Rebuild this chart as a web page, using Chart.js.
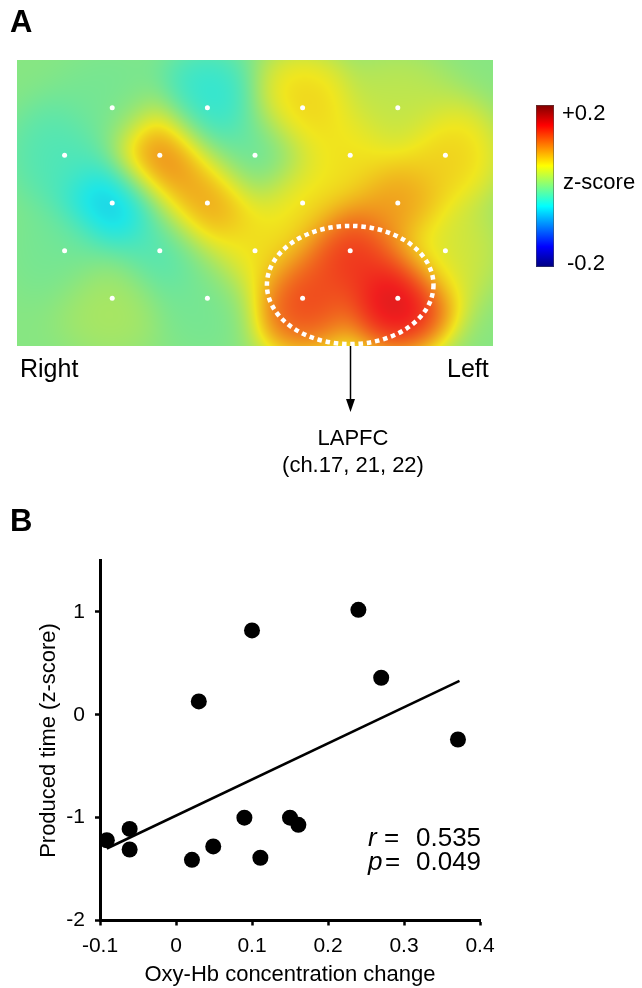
<!DOCTYPE html>
<html>
<head>
<meta charset="utf-8">
<title>LAPFC oxy-Hb and produced time</title>
<script src="https://cdn.jsdelivr.net/npm/chart.js@4.4.1/dist/chart.umd.min.js"></script>
<style>
  html, body { margin: 0; padding: 0; background: #fff; }
  body { position: relative; width: 642px; height: 988px; overflow: hidden;
         font-family: "Liberation Sans", Arial, sans-serif; color: #000; }
  canvas { position: absolute; left: 0; }
  #map { top: 0; }
  #scatter { top: 490px; }
  .t { position: absolute; white-space: nowrap; line-height: 1; }
  .panel { font-weight: bold; font-size: 31px; left: 10px; }
  .side { font-size: 25px; top: 356px; }
  .roi { font-size: 22px; left: 353px; transform: translateX(-50%); }
  .cb { font-size: 22px; }
  .stat { font-size: 26px; }
</style>
</head>
<body>
<canvas id="map" width="642" height="490"></canvas>
<canvas id="scatter" width="642" height="498"></canvas>

<div class="t panel" style="top:6px">A</div>
<div class="t side" style="left:20px">Right</div>
<div class="t side" style="left:447px">Left</div>
<div class="t roi" style="top:427px">LAPFC</div>
<div class="t roi" style="top:454px">(ch.17, 21, 22)</div>
<div class="t cb" style="left:562px;top:102px">+0.2</div>
<div class="t cb" style="left:563px;top:171px">z-score</div>
<div class="t cb" style="left:567px;top:252px">-0.2</div>

<div class="t panel" style="top:505px">B</div>
<div class="t stat" style="left:368px;top:824px"><i>r</i></div>
<div class="t stat" style="left:384px;top:824px">=</div>
<div class="t stat" style="left:416px;top:824px">0.535</div>
<div class="t stat" style="left:368px;top:848px"><i>p</i></div>
<div class="t stat" style="left:385px;top:848px">=</div>
<div class="t stat" style="left:416px;top:848px">0.049</div>

<script>
// ---- panel A: 22 channels, column/row on the probe grid, z-score of each
const chCol = [2, 4, 6, 8, 1, 3, 5, 7, 9, 2, 4, 6, 8, 1, 3, 5, 7, 9, 2, 4, 6, 8];
const chRow = [1, 1, 1, 1, 2, 2, 2, 2, 2, 3, 3, 3, 3, 4, 4, 4, 4, 4, 5, 5, 5, 5];
const chZ = [-0.01, -0.05, 0.07, 0.03,
             -0.03, 0.12, -0.02, 0.06, 0.07,
             -0.08, 0.10, 0.06, 0.10,
             -0.01, -0.03, 0.06, 0.16, 0.04,
             0.02, -0.01, 0.15, 0.19];
const zRange = [-0.2, 0.2];
const roi = { x: 7.0, y: 4.72, rx: 1.75, ry: 1.24 };   // LAPFC (ch.17, 21, 22)

// ---- panel B
const oxyHb = [-0.091, -0.061, -0.061, 0.021, 0.049, 0.090, 0.111, 0.150, 0.161,
               0.030, 0.100, 0.240, 0.270, 0.371];
const producedTime = [-1.22, -1.11, -1.31, -1.41, -1.28, -1.00, -1.39, -1.00, -1.07,
                      0.13, 0.82, 1.02, 0.36, -0.24];
const fitX = [-0.091, 0.373];
const fitY = [-1.30, 0.33];
const xTicks = [-0.1, 0, 0.1, 0.2, 0.3, 0.4];
const yTicks = [-2, -1, 0, 1];

Chart.defaults.font.family = '"Liberation Sans", Arial, sans-serif';
Chart.defaults.color = '#000';

function jet(t) {
    const c = v => Math.max(0, Math.min(1, v));
    return [c(1.5 - Math.abs(4 * t - 3)), c(1.5 - Math.abs(4 * t - 2)), c(1.5 - Math.abs(4 * t - 1))];
}

// smooth surface between channels (gaussian weights, relaxes to 0 away from the probe)
function fieldAt(gx, gy) {
    const s2 = 2 * 0.58 * 0.58;
    let num = 0, den = 0.2;
    for (let i = 0; i < chZ.length; i++) {
        const dx = gx - chCol[i], dy = gy - chRow[i];
        const w = Math.exp(-(dx * dx + dy * dy) / s2);
        num += w * chZ[i];
        den += w;
    }
    return num / den;
}

const topoPlugin = {
    id: 'topo',
    beforeDatasetsDraw(chart) {
        const { ctx, chartArea: a, scales: { x, y } } = chart;
        const w = Math.round(a.right - a.left), h = Math.round(a.bottom - a.top);
        const img = ctx.createImageData(w, h);
        for (let j = 0; j < h; j++) {
            const gy = y.getValueForPixel(a.top + j + 0.5);
            for (let i = 0; i < w; i++) {
                const gx = x.getValueForPixel(a.left + i + 0.5);
                const t = (fieldAt(gx, gy) - zRange[0]) / (zRange[1] - zRange[0]);
                const [r, g, b] = jet(t);
                const k = (j * w + i) * 4;
                img.data[k] = 30 + 210 * r;
                img.data[k + 1] = 30 + 200 * g;
                img.data[k + 2] = 30 + 200 * b;
                img.data[k + 3] = 255;
            }
        }
        ctx.putImageData(img, Math.round(a.left), Math.round(a.top));

        // dotted ROI ellipse
        const cx = x.getPixelForValue(roi.x), cy = y.getPixelForValue(roi.y);
        const rx = Math.abs(x.getPixelForValue(roi.x + roi.rx) - cx);
        const ry = Math.abs(y.getPixelForValue(roi.y + roi.ry) - cy);
        ctx.save();
        ctx.strokeStyle = '#fff';
        ctx.lineWidth = 4.5;
        ctx.setLineDash([4.5, 3.8]);
        ctx.beginPath();
        ctx.ellipse(cx, cy, rx, ry, 0, 0, Math.PI * 2);
        ctx.stroke();
        ctx.restore();
    },
    afterDraw(chart) {
        const { ctx, chartArea: a, scales: { x } } = chart;
        // arrow down to the LAPFC label
        const ax = Math.round(x.getPixelForValue(roi.x)) + 0.5;
        ctx.save();
        ctx.strokeStyle = '#000';
        ctx.fillStyle = '#000';
        ctx.lineWidth = 1.5;
        ctx.beginPath();
        ctx.moveTo(ax, a.bottom);
        ctx.lineTo(ax, 402);
        ctx.stroke();
        ctx.beginPath();
        ctx.moveTo(ax - 4.5, 399);
        ctx.lineTo(ax + 4.5, 399);
        ctx.lineTo(ax, 412);
        ctx.closePath();
        ctx.fill();

        // colour bar
        const bx = 536, bt = 105, bw = 18, bh = 162;
        const grad = ctx.createLinearGradient(0, bt + bh, 0, bt);
        [0, 0.125, 0.375, 0.625, 0.875, 1].forEach(t => {
            const [r, g, b] = jet(t);
            grad.addColorStop(t, `rgb(${Math.round(r * 255)},${Math.round(g * 255)},${Math.round(b * 255)})`);
        });
        ctx.fillStyle = grad;
        ctx.fillRect(bx, bt, bw, bh);
        ctx.strokeStyle = 'rgba(80,80,80,0.5)';
        ctx.lineWidth = 1;
        ctx.strokeRect(bx + 0.5, bt + 0.5, bw - 1, bh - 1);
        ctx.restore();
    }
};

new Chart(document.getElementById('map'), {
    type: 'scatter',
    data: {
        datasets: [{
            data: chCol.map((c, i) => ({ x: c, y: chRow[i] })),
            pointRadius: 2.5,
            pointBackgroundColor: '#fff',
            pointBorderWidth: 0
        }]
    },
    options: {
        responsive: false,
        animation: false,
        events: [],
        layout: { padding: { left: 17, top: 60, right: 149, bottom: 144 } },
        plugins: { legend: { display: false }, tooltip: { enabled: false } },
        scales: {
            x: { type: 'linear', min: 0, max: 10, display: false },
            y: { type: 'linear', min: 0, max: 6, reverse: true, display: false }
        }
    },
    plugins: [topoPlugin]
});

const axisCommon = {
    type: 'linear',
    ticks: { font: { size: 21 }, color: '#000', callback: v => String(v) },
    grid: { display: true, drawOnChartArea: false, drawTicks: true, tickLength: 5, tickWidth: 2.5, tickColor: '#000' },
    border: { display: true, color: '#000', width: 3 }
};

new Chart(document.getElementById('scatter'), {
    type: 'scatter',
    data: {
        datasets: [
            {
                data: oxyHb.map((v, i) => ({ x: v, y: producedTime[i] })),
                pointRadius: 8,
                pointBackgroundColor: '#000',
                pointBorderWidth: 0
            },
            {
                type: 'line',
                data: fitX.map((v, i) => ({ x: v, y: fitY[i] })),
                borderColor: '#000',
                borderWidth: 2.5,
                pointRadius: 0,
                fill: false
            }
        ]
    },
    options: {
        responsive: false,
        animation: false,
        events: [],
        layout: { padding: { left: 0, top: 70.5, right: 162, bottom: 0 } },
        plugins: { legend: { display: false }, tooltip: { enabled: false } },
        scales: {
            x: {
                ...axisCommon,
                min: -0.1, max: 0.4,
                ticks: { ...axisCommon.ticks, padding: 8 },
                afterBuildTicks: s => { s.ticks = xTicks.map(v => ({ value: v })); },
                afterFit: s => { s.height = 67.5; },
                title: { display: true, text: 'Oxy-Hb concentration change', font: { size: 22 }, color: '#000', padding: { top: 0, bottom: 0 } }
            },
            y: {
                ...axisCommon,
                min: -2, max: 1.5,
                ticks: { ...axisCommon.ticks, padding: 10 },
                afterBuildTicks: s => { s.ticks = yTicks.map(v => ({ value: v })); },
                afterFit: s => { s.width = 100; },
                title: { display: true, text: 'Produced time (z-score)', font: { size: 22 }, color: '#000', padding: { top: 36, bottom: 0 } }
            }
        }
    }
});
</script>
</body>
</html>
